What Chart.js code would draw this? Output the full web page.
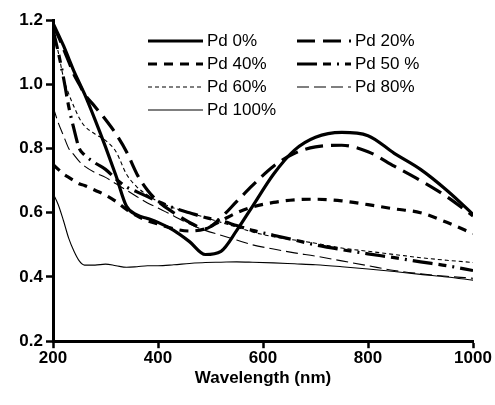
<!DOCTYPE html>
<html>
<head>
<meta charset="utf-8">
<script src="https://cdn.jsdelivr.net/npm/chart.js@4"></script>
<style>
  html, body { margin: 0; padding: 0; background: #fff; }
  #wrap { width: 495px; height: 405px; }
</style>
</head>
<body>
<div id="wrap"><canvas id="absChart" width="495" height="405"></canvas></div>
<script>
// ==========================================
// 1. data
// ==========================================
const wavelengths = [200, 210, 220, 230, 240, 250, 260, 280, 300, 320, 340, 360, 380, 400, 430, 460, 490, 520, 550, 580, 620, 660, 700, 750, 800, 850, 900, 950, 1000];

const pd0   = [1.19, 1.155, 1.12, 1.08, 1.04, 1.005, 0.97, 0.89, 0.805, 0.715, 0.62, 0.593, 0.582, 0.57, 0.545, 0.51, 0.47, 0.48, 0.545, 0.62, 0.72, 0.795, 0.835, 0.85, 0.84, 0.785, 0.735, 0.67, 0.595];
const pd20  = [1.18, 1.15, 1.11, 1.07, 1.03, 1.00, 0.97, 0.93, 0.89, 0.845, 0.79, 0.72, 0.67, 0.635, 0.60, 0.57, 0.55, 0.585, 0.635, 0.685, 0.745, 0.785, 0.805, 0.81, 0.79, 0.745, 0.70, 0.65, 0.59];
const pd40  = [0.75, 0.735, 0.72, 0.71, 0.70, 0.69, 0.685, 0.67, 0.655, 0.635, 0.61, 0.59, 0.575, 0.565, 0.55, 0.543, 0.55, 0.575, 0.60, 0.618, 0.632, 0.64, 0.642, 0.637, 0.625, 0.612, 0.60, 0.57, 0.535];
const pd50  = [1.17, 1.10, 1.02, 0.93, 0.86, 0.80, 0.78, 0.755, 0.735, 0.705, 0.68, 0.665, 0.65, 0.635, 0.615, 0.60, 0.585, 0.575, 0.56, 0.545, 0.53, 0.515, 0.50, 0.485, 0.472, 0.46, 0.447, 0.435, 0.42];
const pd60  = [1.17, 1.10, 1.02, 0.97, 0.93, 0.895, 0.87, 0.845, 0.825, 0.79, 0.72, 0.68, 0.655, 0.635, 0.615, 0.60, 0.585, 0.57, 0.555, 0.54, 0.525, 0.515, 0.505, 0.49, 0.48, 0.47, 0.46, 0.452, 0.445];
const pd80  = [0.93, 0.88, 0.84, 0.80, 0.78, 0.76, 0.745, 0.725, 0.71, 0.69, 0.67, 0.65, 0.63, 0.615, 0.59, 0.565, 0.545, 0.53, 0.515, 0.50, 0.487, 0.475, 0.465, 0.45, 0.435, 0.42, 0.41, 0.402, 0.396];
const pd100 = [0.66, 0.625, 0.575, 0.52, 0.48, 0.45, 0.437, 0.437, 0.44, 0.435, 0.43, 0.432, 0.435, 0.435, 0.438, 0.442, 0.445, 0.446, 0.447, 0.446, 0.444, 0.441, 0.438, 0.432, 0.425, 0.417, 0.408, 0.40, 0.39];

const seriesNames = ['Pd 0%', 'Pd 20%', 'Pd 40%', 'Pd 50 %', 'Pd 60%', 'Pd 80%', 'Pd 100%'];
const xTicks = [200, 400, 600, 800, 1000];
const yTicks = [0.2, 0.4, 0.6, 0.8, 1.0, 1.2];

// line looks per series (same order as seriesNames)
const seriesStyles = [
    { width: 3.2, dash: [] },
    { width: 3.2, dash: [18, 8] },
    { width: 3.2, dash: [9, 7] },
    { width: 3.2, dash: [20, 6, 8, 6, 2, 6] },
    { width: 1.1, dash: [4, 3] },
    { width: 1.1, dash: [12, 5] },
    { width: 1.1, dash: [] }
];

const allValues = [pd0, pd20, pd40, pd50, pd60, pd80, pd100];

// ==========================================
// 2. legend drawn inside the plot (2 columns)
// ==========================================
const insideLegend = {
    id: 'insideLegend',
    afterDraw(chart) {
        const ctx = chart.ctx;
        const cols = [{ lx: 148, tx: 207 }, { lx: 297, tx: 355 }];
        const rowY = [41, 64, 87, 110];
        ctx.save();
        ctx.font = '17px "Liberation Sans", Arial, sans-serif';
        ctx.textBaseline = 'middle';
        ctx.fillStyle = '#000';
        chart.data.datasets.forEach((ds, i) => {
            const c = cols[i % 2];
            const y = rowY[Math.floor(i / 2)];
            ctx.strokeStyle = '#000';
            ctx.lineWidth = ds.borderWidth;
            ctx.setLineDash(ds.borderDash || []);
            ctx.beginPath();
            ctx.moveTo(c.lx, y);
            ctx.lineTo(c.tx - 4, y);
            ctx.stroke();
            ctx.setLineDash([]);
            ctx.fillText(ds.label, c.tx, y);
        });
        ctx.restore();
    }
};

// ==========================================
// 3. chart
// ==========================================
const datasets = seriesNames.map((name, i) => ({
    label: name,
    data: wavelengths.map((w, k) => ({ x: w, y: allValues[i][k] })),
    borderColor: '#000',
    borderWidth: seriesStyles[i].width,
    borderDash: seriesStyles[i].dash,
    pointRadius: 0,
    fill: false,
    cubicInterpolationMode: 'monotone'
}));

const tickFont = { family: '"Liberation Sans", Arial, sans-serif', size: 17, weight: 'bold' };

new Chart(document.getElementById('absChart'), {
    type: 'line',
    data: { datasets: datasets },
    options: {
        responsive: false,
        animation: false,
        layout: { padding: { left: 0, right: 22, top: 20, bottom: 16 } },
        plugins: { legend: { display: false }, tooltip: { enabled: false } },
        scales: {
            x: {
                type: 'linear',
                min: 200,
                max: 1000,
                afterBuildTicks: (scale) => { scale.ticks = xTicks.map(v => ({ value: v })); },
                ticks: { color: '#000', font: tickFont, padding: 0, maxRotation: 0, callback: (v) => String(v) },
                grid: { drawOnChartArea: false, drawTicks: true, tickLength: 7, tickWidth: 2.5, color: '#000' },
                border: { display: true, color: '#000', width: 3 },
                title: { display: true, text: 'Wavelength (nm)', color: '#000', font: tickFont, padding: { top: 0, bottom: 0 } }
            },
            y: {
                min: 0.2,
                max: 1.2,
                afterBuildTicks: (scale) => { scale.ticks = yTicks.map(v => ({ value: v })); },
                afterFit: (scale) => { scale.width = 53; },
                ticks: { color: '#000', font: tickFont, padding: 3, callback: (v) => v.toFixed(1) },
                grid: { drawOnChartArea: false, drawTicks: true, tickLength: 7, tickWidth: 2.5, color: '#000' },
                border: { display: true, color: '#000', width: 3 }
            }
        }
    },
    plugins: [insideLegend]
});
</script>
</body>
</html>
